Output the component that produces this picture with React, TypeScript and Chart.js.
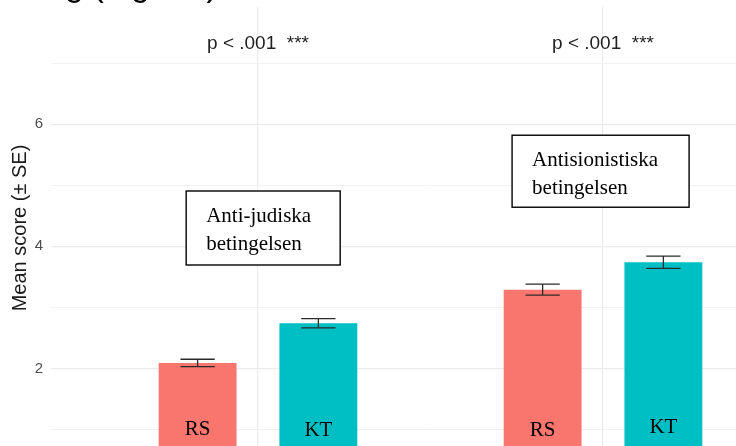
import React, { useEffect, useRef } from "react";
import { Chart, registerables } from "chart.js";

Chart.register(...registerables);

// ---- data ----
const conditions = ["Anti-judiska betingelsen", "Antisionistiska betingelsen"];
const conditionIndex = [0, 1];
const groups = ["RS", "KT"];
const rsMeans = [2.09, 3.29];
const ktMeans = [2.74, 3.74];
const rsSE = [0.06, 0.09];
const ktSE = [0.075, 0.1];
const rsLabelY = [1.0, 0.99];
const ktLabelY = [0.99, 1.03];
const yGridTicks = [1, 2, 3, 4, 5, 6, 7];
const yLabelledTicks = [2, 4, 6];
const pLabels = ["p < .001  ***", "p < .001  ***"];
const pLabelY = [7.32, 7.32];
const boxLines = [
  ["Anti-judiska", "betingelsen"],
  ["Antisionistiska", "betingelsen"],
];
const boxCenterX = [0.015, 0.993];
const boxCenterY = [4.3, 5.23];
const titleFragment = "ng (Figur 1)";

// ---- styles ----
const RS_COLOR = "#F8766D";
const KT_COLOR = "#00BFC4";
const BOX_SIZES = [
  [154, 74],
  [177, 72],
];

const annotations = {
  id: "annotations",
  afterDatasetsDraw(chart: any) {
    const ctx = chart.ctx;
    const y = chart.scales.y;
    const x = chart.scales.x;
    const seList = [rsSE, ktSE];
    const meanList = [rsMeans, ktMeans];
    const labelYs = [rsLabelY, ktLabelY];
    ctx.save();
    // error bars
    chart.data.datasets.forEach((ds: any, di: number) => {
      const meta = chart.getDatasetMeta(di);
      meta.data.forEach((el: any, i: number) => {
        const m = meanList[di][i];
        const se = seList[di][i];
        const yTop = y.getPixelForValue(m + se);
        const yBot = y.getPixelForValue(m - se);
        const half = el.width * 0.22;
        ctx.strokeStyle = "#2b2b2b";
        ctx.lineWidth = 1.3;
        ctx.beginPath();
        ctx.moveTo(el.x - half, yTop);
        ctx.lineTo(el.x + half, yTop);
        ctx.moveTo(el.x, yTop);
        ctx.lineTo(el.x, yBot);
        ctx.moveTo(el.x - half, yBot);
        ctx.lineTo(el.x + half, yBot);
        ctx.stroke();
        // group label inside bar
        ctx.fillStyle = "#000";
        ctx.font = '21px "Liberation Serif", "Times New Roman", serif';
        ctx.textAlign = "center";
        ctx.textBaseline = "middle";
        ctx.fillText(groups[di], el.x, y.getPixelForValue(labelYs[di][i]));
      });
    });
    // p labels
    ctx.font = '19px "Liberation Sans", Arial, sans-serif';
    ctx.fillStyle = "#1f1f1f";
    ctx.textAlign = "center";
    ctx.textBaseline = "middle";
    conditionIndex.forEach((ci, i) => {
      ctx.fillText(pLabels[i], x.getPixelForValue(ci), y.getPixelForValue(pLabelY[i]));
    });
    // boxes
    boxLines.forEach((lines, i) => {
      const [w, h] = BOX_SIZES[i];
      const cx = x.getPixelForValue(boxCenterX[i]);
      const cy = y.getPixelForValue(boxCenterY[i]);
      const left = cx - w / 2;
      const top = cy - h / 2;
      ctx.fillStyle = "#fff";
      ctx.fillRect(left, top, w, h);
      ctx.strokeStyle = "#000";
      ctx.lineWidth = 1.4;
      ctx.strokeRect(left, top, w, h);
      ctx.fillStyle = "#000";
      ctx.font = '21px "Liberation Serif", "Times New Roman", serif';
      ctx.textAlign = "left";
      ctx.textBaseline = "alphabetic";
      lines.forEach((line, li) => {
        ctx.fillText(line, left + 20, top + 31 + li * 27.5);
      });
    });
    // cut-off document text at top
    ctx.font = '33px "Liberation Sans", Arial, sans-serif';
    ctx.fillStyle = "#000";
    ctx.textAlign = "left";
    ctx.textBaseline = "alphabetic";
    ctx.fillText(titleFragment, 47, -4);
    ctx.restore();
  },
};

export default function App() {
  const ref = useRef<HTMLCanvasElement>(null);
  useEffect(() => {
    if (!ref.current) return;
    const chart = new Chart(ref.current, {
      type: "bar",
      data: {
        datasets: [
          {
            label: groups[0],
            data: conditionIndex.map((c, i) => ({ x: c, y: rsMeans[i] })),
            backgroundColor: RS_COLOR,
            borderWidth: 0,
            categoryPercentage: 0.7,
            barPercentage: 0.645,
          },
          {
            label: groups[1],
            data: conditionIndex.map((c, i) => ({ x: c, y: ktMeans[i] })),
            backgroundColor: KT_COLOR,
            borderWidth: 0,
            categoryPercentage: 0.7,
            barPercentage: 0.645,
          },
        ],
      },
      options: {
        responsive: false,
        animation: false,
        devicePixelRatio: 1,
        layout: { padding: { top: 7, left: 0, right: 0, bottom: 0 } },
        plugins: {
          legend: { display: false },
          tooltip: { enabled: false },
          title: { display: false },
        },
        events: [],
        scales: {
          x: {
            type: "linear",
            min: -0.6,
            max: 1.6,
            offset: false,
            afterBuildTicks: (s: any) => {
              s.ticks = conditionIndex.map((v) => ({ value: v }));
            },
            afterFit: (s: any) => {
              s.height = 0;
              s.paddingLeft = 0;
              s.paddingRight = 0;
            },
            ticks: { display: false },
            grid: { color: "#EBEBEB", lineWidth: 1.2, drawTicks: false, offset: false },
            border: { display: false },
          },
          y: {
            type: "linear",
            min: 0.68,
            max: 7.92,
            afterBuildTicks: (s: any) => {
              s.ticks = yGridTicks.map((v) => ({ value: v }));
            },
            afterFit: (s: any) => {
              s.width = 51;
              s.paddingTop = 0;
              s.paddingBottom = 0;
            },
            ticks: {
              padding: 8,
              color: "#4D4D4D",
              font: { family: '"Liberation Sans", Arial, sans-serif', size: 15 },
              callback: (v: any) => (yLabelledTicks.includes(Number(v)) ? String(v) : ""),
            },
            grid: {
              drawTicks: false,
              color: (c: any) => (c.tick && c.tick.value % 2 === 0 ? "#EBEBEB" : "#F1F1F1"),
              lineWidth: (c: any) => (c.tick && c.tick.value % 2 === 0 ? 1.3 : 1),
            },
            border: { display: false },
            title: {
              display: true,
              text: "Mean score (± SE)",
              color: "#1a1a1a",
              font: { family: '"Liberation Sans", Arial, sans-serif', size: 20 },
              padding: { top: 8, bottom: 0 },
            },
          },
        },
      },
      plugins: [annotations],
    } as any);
    return () => chart.destroy();
  }, []);
  return (
    <div
      style={{
        position: "fixed",
        left: 0,
        top: 0,
        width: 736,
        height: 446,
        overflow: "hidden",
        background: "#fff",
      }}
    >
      <canvas
        ref={ref}
        width={810}
        height={449}
        style={{ position: "absolute", left: 0, top: 0, width: 810, height: 449 }}
        aria-label={conditions.join(", ")}
      />
    </div>
  );
}
